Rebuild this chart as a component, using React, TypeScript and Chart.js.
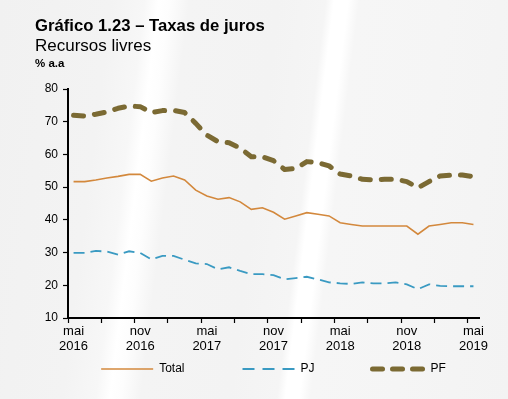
import React, { useEffect, useRef } from "react";
import { Chart, registerables } from "chart.js";

Chart.register(...registerables);

// ---- data ----
const categories: string[] = [
  "mai 2016", "jun 2016", "jul 2016", "ago 2016", "set 2016", "out 2016",
  "nov 2016", "dez 2016", "jan 2017", "fev 2017", "mar 2017", "abr 2017",
  "mai 2017", "jun 2017", "jul 2017", "ago 2017", "set 2017", "out 2017",
  "nov 2017", "dez 2017", "jan 2018", "fev 2018", "mar 2018", "abr 2018",
  "mai 2018", "jun 2018", "jul 2018", "ago 2018", "set 2018", "out 2018",
  "nov 2018", "dez 2018", "jan 2019", "fev 2019", "mar 2019", "abr 2019",
  "mai 2019",
];

const totalRates: number[] = [
  51.7, 51.7, 52.2, 52.8, 53.3, 53.9, 53.9, 51.8, 52.8, 53.4, 52.2, 49.1,
  47.3, 46.3, 46.8, 45.5, 43.2, 43.7, 42.3, 40.2, 41.2, 42.2, 41.7, 41.2,
  39.1, 38.6, 38.1, 38.1, 38.1, 38.1, 38.1, 35.6, 38.1, 38.6, 39.1, 39.1,
  38.6,
];

const pjRates: number[] = [
  29.9, 29.9, 30.5, 30.3, 29.4, 30.4, 29.9, 27.9, 29.0, 29.0, 27.8, 26.7,
  26.5, 24.9, 25.5, 24.4, 23.4, 23.4, 23.1, 21.8, 22.2, 22.6, 21.8, 20.9,
  20.6, 20.4, 20.9, 20.6, 20.6, 20.9, 20.3, 18.8, 20.3, 19.8, 19.7, 19.7,
  19.7,
];

const pfRates: number[] = [
  72.0, 71.7, 72.3, 73.0, 74.1, 74.8, 74.6, 72.8, 73.4, 73.5, 72.8, 69.5,
  65.9, 63.9, 63.6, 61.9, 59.3, 59.3, 58.1, 55.4, 55.7, 57.8, 57.5, 56.5,
  54.0, 53.4, 52.4, 52.2, 52.4, 52.4, 51.7, 49.8, 51.7, 53.4, 53.7, 53.7,
  53.2,
];

const seriesLabels: string[] = ["Total", "PJ", "PF"];
const yTickRange = { min: 10, max: 80, step: 10 };

const TOTAL_COLOR = "#D3883C";
const PJ_COLOR = "#3A9AC2";
const PF_COLOR = "#7B6A33";
const FONT = "'Liberation Sans', Arial, Helvetica, sans-serif";

const legendPlacement = {
  id: "legendPlacement",
  afterLayout(chart: any) {
    const lg = chart.legend;
    if (!lg) return;
    const pad = lg.options.labels.padding;
    const fontSize = 12;
    lg.top = 369 - fontSize / 2 - pad;
    lg.left = 34;
    lg.right = 513;
  },
};

export default function App() {
  const ref = useRef<HTMLCanvasElement>(null);

  useEffect(() => {
    const canvas = ref.current;
    if (!canvas) return;
    Chart.defaults.font.family = FONT;
    Chart.defaults.color = "#000";
    const defaultGen = (Chart.defaults as any).plugins.legend.labels.generateLabels;

    const chart = new Chart(canvas, {
      type: "line",
      data: {
        labels: categories,
        datasets: [
          {
            label: seriesLabels[0],
            data: totalRates,
            borderColor: TOTAL_COLOR,
            backgroundColor: TOTAL_COLOR,
            borderWidth: 1.6,
            pointRadius: 0,
            tension: 0,
            fill: false,
          },
          {
            label: seriesLabels[1],
            data: pjRates,
            borderColor: PJ_COLOR,
            backgroundColor: PJ_COLOR,
            borderWidth: 1.8,
            borderDash: [11, 6],
            pointRadius: 0,
            tension: 0,
            fill: false,
          },
          {
            label: seriesLabels[2],
            data: pfRates,
            borderColor: PF_COLOR,
            backgroundColor: PF_COLOR,
            borderWidth: 5,
            borderDash: [10, 11],
            borderCapStyle: "round",
            borderJoinStyle: "round",
            pointRadius: 0,
            tension: 0,
            fill: false,
          },
        ],
      },
      options: {
        responsive: false,
        animation: false,
        devicePixelRatio: 1,
        layout: { padding: { top: 89, right: 29, bottom: 0, left: 0 } },
        plugins: {
          title: { display: false },
          tooltip: { enabled: false },
          legend: {
            display: true,
            position: "bottom",
            maxHeight: 41,
            labels: {
              usePointStyle: true,
              pointStyle: "line",
              pointStyleWidth: 52,
              padding: 58,
              color: "#000",
              font: { size: 12, family: FONT },
              generateLabels: (c: any) => {
                const items = defaultGen(c);
                return items.map((it: any) => {
                  const ds: any = c.data.datasets[it.datasetIndex];
                  const legendDash =
                    it.datasetIndex === 1 ? [12, 8] : it.datasetIndex === 2 ? [10, 10] : [];
                  return {
                    ...it,
                    lineWidth: ds.borderWidth,
                    lineDash: legendDash,
                    lineCap: ds.borderCapStyle || "butt",
                    lineJoin: ds.borderJoinStyle || "miter",
                    strokeStyle: ds.borderColor,
                    fillStyle: "transparent",
                  };
                });
              },
            },
          },
        },
        scales: {
          x: {
            type: "category",
            offset: true,
            grid: {
              display: true,
              offset: true,
              drawOnChartArea: false,
              drawTicks: true,
              tickLength: 5,
              tickWidth: 1.2,
              tickColor: (ctx: any) =>
                ctx.index !== undefined && ctx.index % 3 === 0 ? "#000" : "transparent",
            },
            border: { display: true, color: "#000", width: 2 },
            ticks: {
              autoSkip: false,
              maxRotation: 0,
              minRotation: 0,
              padding: 1,
              color: "#000",
              font: { size: 13, family: FONT, lineHeight: 1.15 },
              callback: function (_v: any, i: number) {
                if (i % 6 !== 0) return "";
                return categories[i].split(" ");
              },
            },
            afterFit: (scale: any) => {
              scale.height = 40;
            },
          },
          y: {
            min: yTickRange.min,
            max: yTickRange.max,
            grid: {
              display: true,
              drawOnChartArea: false,
              drawTicks: true,
              tickLength: 5,
              tickWidth: 1.2,
              tickColor: "#000",
            },
            border: { display: true, color: "#000", width: 2 },
            ticks: {
              stepSize: yTickRange.step,
              padding: 5,
              color: "#000",
              font: { size: 12, family: FONT },
            },
            afterFit: (scale: any) => {
              scale.width = 68;
            },
          },
        },
      },
      plugins: [legendPlacement],
    } as any);

    return () => chart.destroy();
  }, []);

  return (
    <div
      style={{
        position: "fixed",
        left: 0,
        top: 0,
        width: 508,
        height: 399,
        overflow: "hidden",
        fontFamily: FONT,
        background:
          "linear-gradient(97deg, #f1f1f1 0%, #f3f3f3 20%, #f7f7f7 26%, #ffffff 28.5%, #fdfdfd 30.5%, #f4f4f4 34%, #f3f3f3 50%, #f5f5f5 58.5%, #ffffff 60%, #ffffff 62.5%, #f6f6f6 64.5%, #f5f5f5 80%, #f3f3f3 100%)",
      }}
    >
      <canvas
        ref={ref}
        width={508}
        height={399}
        style={{ position: "absolute", left: 0, top: 0, width: 508, height: 399 }}
      />
      <div
        style={{
          position: "absolute",
          left: 35,
          top: 18.3,
          fontSize: 16.7,
          lineHeight: "16.7px",
          fontWeight: "bold",
          color: "#000",
          whiteSpace: "nowrap",
        }}
      >
        Gráfico 1.23 – Taxas de juros
      </div>
      <div
        style={{
          position: "absolute",
          left: 35,
          top: 37.3,
          fontSize: 17,
          lineHeight: "17px",
          color: "#000",
          whiteSpace: "nowrap",
        }}
      >
        Recursos livres
      </div>
      <div
        style={{
          position: "absolute",
          left: 35,
          top: 57.5,
          fontSize: 11.5,
          lineHeight: "11.5px",
          fontWeight: "bold",
          color: "#000",
          whiteSpace: "nowrap",
        }}
      >
        % a.a
      </div>
    </div>
  );
}
